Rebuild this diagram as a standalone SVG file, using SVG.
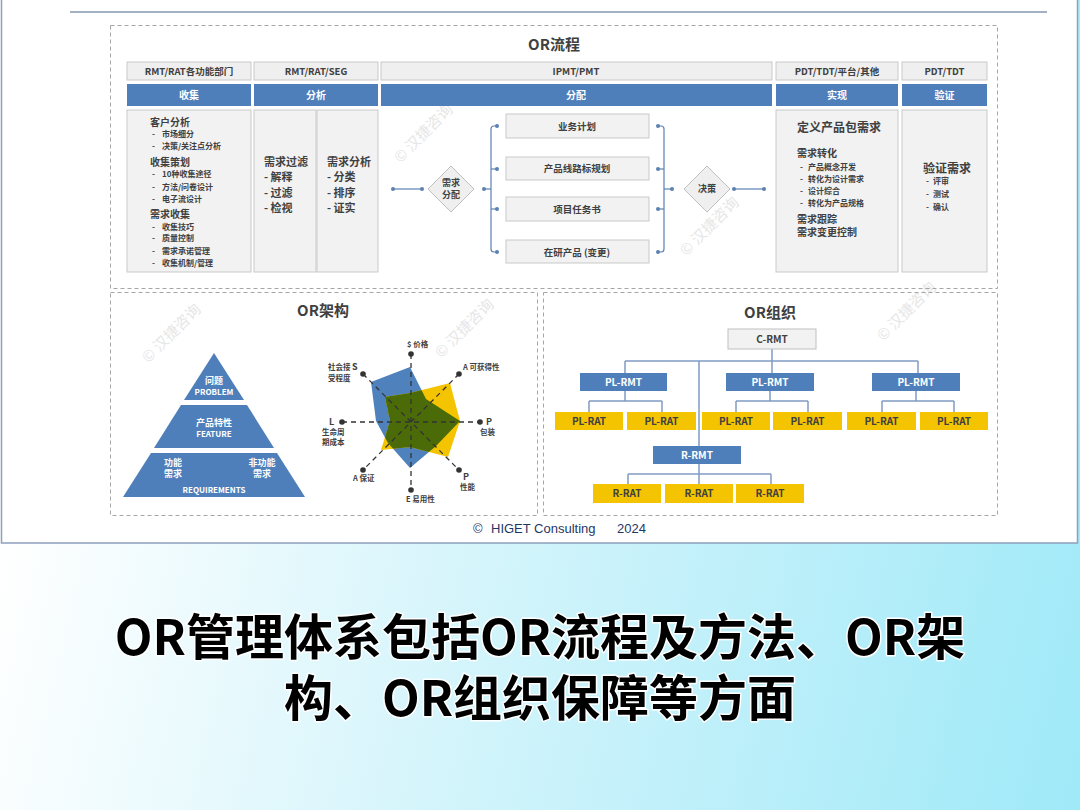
<svg xmlns="http://www.w3.org/2000/svg" width="1080" height="810" viewBox="0 0 1080 810">
<defs>
<linearGradient id="bg" x1="0" y1="545" x2="1080" y2="810" gradientUnits="userSpaceOnUse">
<stop offset="0" stop-color="#ffffff"/>
<stop offset="0.45" stop-color="#d2f4fb"/>
<stop offset="1" stop-color="#9fe9f8"/>
</linearGradient>
<clipPath id="blueClip"><polygon points="410,367 371,382 376,421 388,443 410,468 436,446 460,421 426,399"/></clipPath>
<style>
text{font-family:"Noto Sans CJK SC","Noto Sans",sans-serif;}
.dash{fill:none;stroke:#a6a6a6;stroke-width:1;stroke-dasharray:4 3;}
.hdr{fill:#efefef;stroke:#c9c9c9;stroke-width:1;}
.blue{fill:#4f7fba;}
.box{fill:#f2f2f2;stroke:#c9c9c9;stroke-width:1;}
.t9{font-size:9.5px;font-weight:700;fill:#404040;text-anchor:middle;}
.tw{font-size:10px;font-weight:700;fill:#ffffff;text-anchor:middle;}
.h10{font-size:10px;font-weight:700;fill:#404040;}
.i8{font-size:8px;font-weight:700;fill:#404040;}
.h11{font-size:11px;font-weight:700;fill:#404040;}
.h12{font-size:12px;font-weight:700;fill:#404040;}
.title{font-size:15px;font-weight:700;fill:#404040;text-anchor:middle;}
.fl{fill:none;stroke:#5b80b2;stroke-width:1.2;}
.dot{fill:#5b80b2;}
.dia{fill:#efefef;stroke:#bfbfbf;stroke-width:1;}
.org{fill:none;stroke:#7f9cc4;stroke-width:1.5;}
.orgb{fill:#4f7fba;}
.orgy{fill:#f5c400;}
.ot{font-size:10px;font-weight:700;text-anchor:middle;}
.wm{font-size:15px;fill:#dcdcdc;opacity:0.7;text-anchor:middle;}
.pw{font-size:9px;font-weight:700;fill:#ffffff;text-anchor:middle;}
.rl{font-size:7.5px;font-weight:700;fill:#404040;}
.ft{font-family:"Liberation Sans",Arial,sans-serif;font-size:13px;fill:#1f3864;}
.cap{font-size:49px;font-weight:700;fill:#000000;stroke:#ffffff;stroke-width:3;paint-order:stroke;stroke-linejoin:round;text-anchor:middle;}
</style>
</defs>

<!-- backgrounds -->
<rect x="0" y="0" width="1080" height="810" fill="url(#bg)"/>
<rect x="1.5" y="-2" width="1076" height="545" fill="#ffffff" stroke="#8d9fbc" stroke-width="1.5"/>
<line x1="70" y1="12" x2="1047" y2="12" stroke="#8497b0" stroke-width="1.5"/>

<!-- watermarks -->
<g id="watermarks">
<text class="wm" transform="translate(427,137) rotate(-45)">© 汉捷咨询</text>
<text class="wm" transform="translate(713,230) rotate(-45)">© 汉捷咨询</text>
<text class="wm" transform="translate(175,337) rotate(-45)">© 汉捷咨询</text>
<text class="wm" transform="translate(468,332) rotate(-45)">© 汉捷咨询</text>
<text class="wm" transform="translate(910,315) rotate(-45)">© 汉捷咨询</text>
</g>

<!-- section frames -->
<rect class="dash" x="110.5" y="25.5" width="887" height="263"/>
<rect class="dash" x="110.5" y="292.5" width="427" height="223"/>
<rect class="dash" x="543.5" y="292.5" width="454" height="223"/>

<text class="title" x="554" y="50">OR流程</text>

<!-- column 1 -->
<g id="col-collect">
<rect class="hdr" x="127" y="62" width="124" height="18"/>
<text class="t9" x="189" y="75">RMT/RAT各功能部门</text>
<rect class="blue" x="127" y="84" width="124" height="22"/>
<text class="tw" x="189" y="99">收集</text>
<rect class="box" x="127" y="110" width="124" height="162"/>
<text class="h10" x="150" y="126">客户分析</text>
<text class="i8" x="152" y="137">-</text><text class="i8" x="162" y="137">市场细分</text>
<text class="i8" x="152" y="149">-</text><text class="i8" x="162" y="149">决策/关注点分析</text>
<text class="h10" x="150" y="166">收集策划</text>
<text class="i8" x="152" y="177">-</text><text class="i8" x="162" y="177">10种收集途径</text>
<text class="i8" x="152" y="190">-</text><text class="i8" x="162" y="190">方法/问卷设计</text>
<text class="i8" x="152" y="202">-</text><text class="i8" x="162" y="202">电子流设计</text>
<text class="h10" x="150" y="218">需求收集</text>
<text class="i8" x="152" y="230">-</text><text class="i8" x="162" y="230">收集技巧</text>
<text class="i8" x="152" y="241">-</text><text class="i8" x="162" y="241">质量控制</text>
<text class="i8" x="152" y="254">-</text><text class="i8" x="162" y="254">需求承诺管理</text>
<text class="i8" x="152" y="266">-</text><text class="i8" x="162" y="266">收集机制/管理</text>
</g>

<!-- column 2 -->
<g id="col-analyze">
<rect class="hdr" x="254" y="62" width="124" height="18"/>
<text class="t9" x="316" y="75">RMT/RAT/SEG</text>
<rect class="blue" x="254" y="84" width="124" height="22"/>
<text class="tw" x="316" y="99">分析</text>
<rect class="box" x="254" y="110" width="62" height="162"/>
<rect class="box" x="317" y="110" width="61" height="162"/>
<text class="h11" x="264" y="166">需求过滤</text>
<text class="h11" x="264" y="181">- 解释</text>
<text class="h11" x="264" y="197">- 过滤</text>
<text class="h11" x="264" y="212">- 检视</text>
<text class="h11" x="327" y="166">需求分析</text>
<text class="h11" x="327" y="181">- 分类</text>
<text class="h11" x="327" y="197">- 排序</text>
<text class="h11" x="327" y="212">- 证实</text>
</g>

<!-- column 3 -->
<g id="col-distribute">
<rect class="hdr" x="381" y="62" width="391" height="18"/>
<text class="t9" x="576" y="75">IPMT/PMT</text>
<rect class="blue" x="381" y="84" width="391" height="22"/>
<text class="tw" x="576" y="99">分配</text>
</g>

<g id="connectors">
<line class="fl" x1="393" y1="189" x2="422" y2="189"/>
<line class="fl" x1="484" y1="189" x2="491" y2="189"/>
<path class="fl" d="M497,126 H494 Q491,126 491,129 V249 Q491,252 494,252 H497"/>
<line class="fl" x1="491" y1="169" x2="497" y2="169"/>
<line class="fl" x1="491" y1="209" x2="497" y2="209"/>
<path class="fl" d="M658,126 H661 Q664,126 664,129 V249 Q664,252 661,252 H658"/>
<line class="fl" x1="664" y1="169" x2="658" y2="169"/>
<line class="fl" x1="664" y1="209" x2="658" y2="209"/>
<line class="fl" x1="664" y1="189" x2="672" y2="189"/>
<line class="fl" x1="734" y1="189" x2="764" y2="189"/>
<circle class="dot" cx="393" cy="189" r="2"/><circle class="dot" cx="422" cy="189" r="2"/>
<circle class="dot" cx="484" cy="189" r="2"/>
<circle class="dot" cx="497" cy="126" r="2"/><circle class="dot" cx="497" cy="169" r="2"/>
<circle class="dot" cx="497" cy="209" r="2"/><circle class="dot" cx="497" cy="252" r="2"/>
<circle class="dot" cx="658" cy="126" r="2"/><circle class="dot" cx="658" cy="169" r="2"/>
<circle class="dot" cx="658" cy="209" r="2"/><circle class="dot" cx="658" cy="252" r="2"/>
<circle class="dot" cx="672" cy="189" r="2"/>
<circle class="dot" cx="734" cy="189" r="2"/><circle class="dot" cx="764" cy="189" r="2"/>
</g>

<g id="d-allocate">
<polygon class="dia" points="451,166 474,189 451,212 428,189"/>
<text class="t9" x="451" y="186" style="font-size:9px">需求</text>
<text class="t9" x="451" y="198" style="font-size:9px">分配</text>
</g>
<g id="n-plan"><rect class="box" x="506" y="114" width="143" height="24"/><text class="t9" x="577" y="130">业务计划</text></g>
<g id="n-roadmap"><rect class="box" x="506" y="157" width="143" height="23"/><text class="t9" x="577" y="172">产品线路标规划</text></g>
<g id="n-charter"><rect class="box" x="506" y="197" width="143" height="24"/><text class="t9" x="577" y="213">项目任务书</text></g>
<g id="n-inprogress"><rect class="box" x="506" y="240" width="143" height="23"/><text class="t9" x="577" y="256">在研产品 (变更)</text></g>
<g id="d-decide">
<polygon class="dia" points="707,166 730,189 707,212 684,189"/>
<text class="t9" x="707" y="192" style="font-size:9px">决策</text>
</g>

<!-- column 4 -->
<g id="col-realize">
<rect class="hdr" x="776" y="62" width="122" height="18"/>
<text class="t9" x="837" y="75">PDT/TDT/平台/其他</text>
<rect class="blue" x="776" y="84" width="122" height="22"/>
<text class="tw" x="837" y="99">实现</text>
<rect class="box" x="776" y="110" width="122" height="162"/>
<text class="h12" x="797" y="132">定义产品包需求</text>
<text class="h10" x="797" y="157">需求转化</text>
<text class="i8" x="800" y="170">-</text><text class="i8" x="808" y="170">产品概念开发</text>
<text class="i8" x="800" y="182">-</text><text class="i8" x="808" y="182">转化为设计需求</text>
<text class="i8" x="800" y="194">-</text><text class="i8" x="808" y="194">设计综合</text>
<text class="i8" x="800" y="206">-</text><text class="i8" x="808" y="206">转化为产品规格</text>
<text class="h10" x="797" y="223">需求跟踪</text>
<text class="h10" x="797" y="236">需求变更控制</text>
</g>

<!-- column 5 -->
<g id="col-verify">
<rect class="hdr" x="902" y="62" width="85" height="18"/>
<text class="t9" x="944.5" y="75">PDT/TDT</text>
<rect class="blue" x="902" y="84" width="85" height="22"/>
<text class="tw" x="944.5" y="99">验证</text>
<rect class="box" x="902" y="110" width="85" height="162"/>
<text class="h12" x="923" y="173">验证需求</text>
<text class="i8" x="926" y="184">-</text><text class="i8" x="933" y="184">评审</text>
<text class="i8" x="926" y="197">-</text><text class="i8" x="933" y="197">测试</text>
<text class="i8" x="926" y="210">-</text><text class="i8" x="933" y="210">确认</text>
</g>

<!-- OR架构 -->
<text class="title" x="323" y="316">OR架构</text>
<g id="pyramid">
<polygon fill="#4f7fba" points="214,353 244,400 184,400"/>
<polygon fill="#4f7fba" points="181,405 247,405 274,448 154,448"/>
<polygon fill="#4f7fba" points="151,453 277,453 305,497 123,497"/>
<text class="pw" x="214" y="384">问题</text>
<text class="pw" x="214" y="395" style="font-size:8px">PROBLEM</text>
<text class="pw" x="214" y="426">产品特性</text>
<text class="pw" x="214" y="437" style="font-size:8px">FEATURE</text>
<text class="pw" x="173" y="466">功能</text>
<text class="pw" x="173" y="477">需求</text>
<text class="pw" x="262" y="466">非功能</text>
<text class="pw" x="262" y="477">需求</text>
<text class="pw" x="214" y="493" style="font-size:8px">REQUIREMENTS</text>
</g>

<g id="radar">
<polygon fill="#4f81bd" points="410,367 371,382 376,421 388,443 410,468 436,446 460,421 426,399"/>
<polygon fill="#f5c400" points="410,393 385,397 390,421 381,450 410,447 448,457 460,421 450,383"/>
<polygon fill="#4b6a08" clip-path="url(#blueClip)" points="410,393 385,397 390,421 381,450 410,447 448,457 460,421 450,383"/>
<g stroke="#333333" stroke-width="1.3" stroke-dasharray="5 4" fill="none">
<line x1="411" y1="354" x2="411" y2="490"/>
<line x1="342" y1="422" x2="480" y2="422"/>
<line x1="363" y1="374" x2="459" y2="470"/>
<line x1="459" y1="374" x2="363" y2="470"/>
</g>
<g fill="#333333">
<circle cx="411" cy="354" r="2.8"/><circle cx="411" cy="490" r="2.8"/>
<circle cx="342" cy="422" r="2.8"/><circle cx="480" cy="422" r="2.8"/>
<circle cx="363" cy="374" r="2.8"/><circle cx="459" cy="374" r="2.8"/>
<circle cx="363" cy="470" r="2.8"/><circle cx="459" cy="470" r="2.8"/>
</g>
<text class="rl" x="407" y="347">$ 价格</text>
<text class="rl" x="328" y="370">社会接</text>
<text class="rl" x="328" y="381">受程度</text>
<text class="rl" x="352" y="370" style="font-size:9px">S</text>
<text class="rl" x="463" y="370">A 可获得性</text>
<text class="rl" x="329" y="425" style="font-size:9px">L</text>
<text class="rl" x="322" y="435">生命周</text>
<text class="rl" x="322" y="445">期成本</text>
<text class="rl" x="486" y="425" style="font-size:9px">P</text>
<text class="rl" x="480" y="435">包装</text>
<text class="rl" x="463" y="480" style="font-size:9px">P</text>
<text class="rl" x="460" y="490">性能</text>
<text class="rl" x="353" y="481">A 保证</text>
<text class="rl" x="406" y="502">E 易用性</text>
</g>

<!-- OR组织 -->
<text class="title" x="770" y="318">OR组织</text>
<g id="org-connectors">
<path class="org" d="M772,349 V361 M625,361 H918 M625,361 V373 M772,361 V373 M918,361 V373 M699,361 V446"/>
<path class="org" d="M625,391 V401 M589,401 H662 M589,401 V412 M662,401 V412"/>
<path class="org" d="M770,391 V401 M736,401 H808 M736,401 V412 M808,401 V412"/>
<path class="org" d="M916,391 V401 M882,401 H954 M882,401 V412 M954,401 V412"/>
<path class="org" d="M699,464 V474 M628,474 H771 M628,474 V484 M699,474 V484 M771,474 V484"/>
</g>
<g id="c-rmt"><rect x="728" y="329" width="88" height="20" fill="#f2f2f2" stroke="#bfbfbf"/><text class="ot" x="772" y="343" fill="#404040">C-RMT</text></g>
<g id="pl-rmt-1"><rect class="orgb" x="580" y="373" width="87" height="18"/><text class="ot" x="623.5" y="386" fill="#ffffff">PL-RMT</text></g>
<g id="pl-rmt-2"><rect class="orgb" x="726" y="373" width="88" height="18"/><text class="ot" x="770" y="386" fill="#ffffff">PL-RMT</text></g>
<g id="pl-rmt-3"><rect class="orgb" x="872" y="373" width="88" height="18"/><text class="ot" x="916" y="386" fill="#ffffff">PL-RMT</text></g>
<g id="pl-rat-1"><rect class="orgy" x="555" y="412" width="68" height="18"/><text class="ot" x="589" y="425" fill="#404040">PL-RAT</text></g>
<g id="pl-rat-2"><rect class="orgy" x="627" y="412" width="69" height="18"/><text class="ot" x="661.5" y="425" fill="#404040">PL-RAT</text></g>
<g id="pl-rat-3"><rect class="orgy" x="702" y="412" width="68" height="18"/><text class="ot" x="736" y="425" fill="#404040">PL-RAT</text></g>
<g id="pl-rat-4"><rect class="orgy" x="773" y="412" width="69" height="18"/><text class="ot" x="807.5" y="425" fill="#404040">PL-RAT</text></g>
<g id="pl-rat-5"><rect class="orgy" x="847" y="412" width="69" height="18"/><text class="ot" x="881.5" y="425" fill="#404040">PL-RAT</text></g>
<g id="pl-rat-6"><rect class="orgy" x="920" y="412" width="68" height="18"/><text class="ot" x="954" y="425" fill="#404040">PL-RAT</text></g>
<g id="r-rmt"><rect class="orgb" x="653" y="446" width="88" height="18"/><text class="ot" x="697" y="459" fill="#ffffff">R-RMT</text></g>
<g id="r-rat-1"><rect class="orgy" x="593" y="484" width="68" height="19"/><text class="ot" x="627" y="497" fill="#404040">R-RAT</text></g>
<g id="r-rat-2"><rect class="orgy" x="665" y="484" width="68" height="19"/><text class="ot" x="699" y="497" fill="#404040">R-RAT</text></g>
<g id="r-rat-3"><rect class="orgy" x="736" y="484" width="68" height="19"/><text class="ot" x="770" y="497" fill="#404040">R-RAT</text></g>

<!-- footer -->
<text class="ft" x="473" y="533">©</text>
<text class="ft" x="491" y="533">HIGET Consulting</text>
<text class="ft" x="617" y="533">2024</text>

<!-- caption -->
<text class="cap" x="540" y="655"><tspan x="540" y="655">OR管理体系包括OR流程及方法、OR架</tspan><tspan x="540" y="716">构、OR组织保障等方面</tspan></text>
</svg>
